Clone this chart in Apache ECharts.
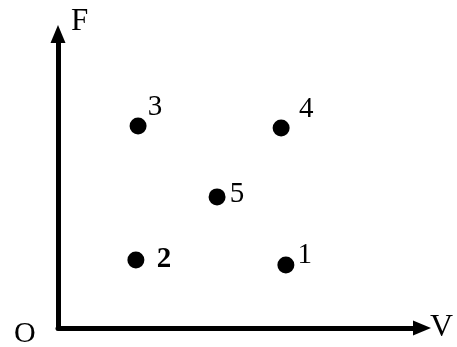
<!DOCTYPE html>
<html>
<head>
<meta charset="utf-8">
<script src="https://cdn.jsdelivr.net/npm/echarts@6/dist/echarts.min.js"></script>
<style>
  html, body { margin: 0; padding: 0; background: #fff; }
  #chart { width: 457px; height: 347px; }
</style>
</head>
<body>
<div id="chart"></div>
<script>
// points (axis range 0..100)
var pointNames = ['1', '2', '3', '4', '5'];
var vValues = [62.6, 21.4, 22.0, 61.3, 43.7];
var fValues = [21.4, 23.1, 68.7, 68.0, 44.6];

// label offsets from the dot centre (px)
var labelOffsets = [[19, -10], [28, -1], [17, -19], [25, -19], [20, -2]];
var serif = "'Liberation Serif', 'Times New Roman', serif";

var data = pointNames.map(function (n, i) {
  return {
    value: [vValues[i], fValues[i]],
    name: n,
    label: {
      offset: labelOffsets[i],
      fontWeight: n === '2' ? 'bold' : 'normal'
    }
  };
});

var chart = echarts.init(document.getElementById('chart'));
chart.setOption({
  animation: false,
  backgroundColor: '#fff',
  grid: { left: 58, right: 35, top: 34, bottom: 19 },
  xAxis: {
    type: 'value', min: 0, max: 100,
    name: 'V', nameLocation: 'end', nameGap: 8,
    nameTextStyle: { fontFamily: serif, fontSize: 32, color: '#000', verticalAlign: 'middle', padding: [0, 0, 4, 0] },
    axisLine: { lineStyle: { color: '#000', width: 5 }, symbol: ['none', 'triangle'], symbolSize: [15, 18] },
    axisTick: { show: false }, axisLabel: { show: false }, splitLine: { show: false }
  },
  yAxis: {
    type: 'value', min: 0, max: 100,
    name: 'F', nameLocation: 'end', nameGap: -3,
    nameTextStyle: { fontFamily: serif, fontSize: 31, color: '#000', align: 'left', padding: [0, 0, 0, 13] },
    axisLine: { lineStyle: { color: '#000', width: 5 }, symbol: ['none', 'triangle'], symbolSize: [15, 18] },
    axisTick: { show: false }, axisLabel: { show: false }, splitLine: { show: false }
  },
  graphic: [{
    type: 'text', left: 14, top: 319,
    style: { text: 'O', font: '30px ' + serif, fill: '#000' }
  }],
  series: [{
    type: 'scatter',
    symbolSize: 17,
    itemStyle: { color: '#000', opacity: 1 },
    label: {
      show: true, position: 'inside',
      formatter: '{b}',
      fontFamily: serif, fontSize: 29, color: '#000'
    },
    data: data
  }]
});
</script>
</body>
</html>
